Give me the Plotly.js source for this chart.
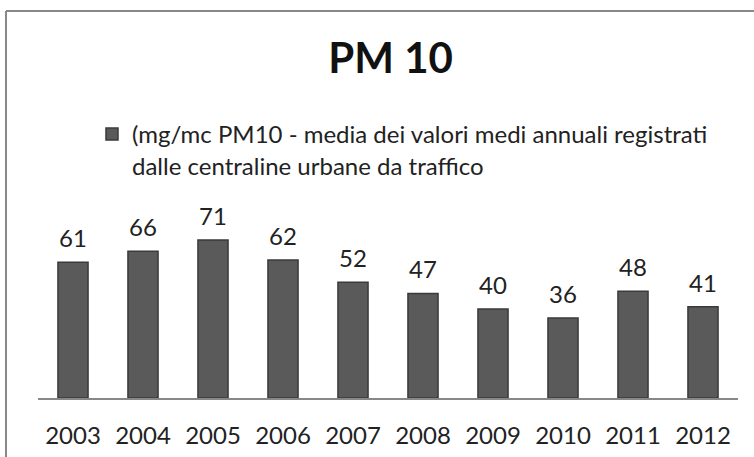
<!DOCTYPE html>
<html>
<head>
<meta charset="utf-8">
<script src="https://cdn.plot.ly/plotly-3.0.1.min.js"></script>
<style>
  html, body { margin: 0; padding: 0; background: #fff; }
  #chart { width: 754px; height: 457px; }
</style>
</head>
<body>
<div id="chart"></div>
<script>
// Years and PM10 annual averages
var years = ['2003', '2004', '2005', '2006', '2007', '2008', '2009', '2010', '2011', '2012']
var pm10 = [61, 66, 71, 62, 52, 47, 40, 36, 48, 41]
var seriesName = '(mg/mc PM10 - media dei valori medi annuali registrati<br>dalle centraline urbane da traffico'

var font = 'Lato, "Open Sans", sans-serif'

var trace = {
  x: years,
  y: pm10,
  type: 'bar',
  name: seriesName,
  marker: { color: '#5a5a5a', line: { color: '#3a3a3a', width: 1.5 } },
  showlegend: true
}

// value labels above bars, a bit higher than plotly's default
// (x given as category index, numeric-looking year strings confuse the axis)
var labels = pm10.map(function (v, i) {
  return {
    x: i, y: v, xref: 'x', yref: 'y',
    text: String(v),
    showarrow: false,
    yanchor: 'bottom',
    yshift: 8,
    font: { size: 24, color: '#222', family: font }
  }
})

// plot area: l=38, w=700, top=200, bottom=398
var layout = {
  width: 754,
  height: 457,
  margin: { l: 38, r: 16, t: 200, b: 59, autoexpand: false },
  paper_bgcolor: '#fff',
  plot_bgcolor: '#fff',
  font: { family: font, color: '#222', size: 24 },
  title: {
    text: '<b>PM 10</b>',
    font: { size: 42, color: '#111', family: font },
    x: 0.518, xanchor: 'center',
    y: 0.873, yanchor: 'middle'
  },
  bargap: 0.57,
  xaxis: {
    type: 'category',
    range: [-0.5, years.length - 0.5],
    showline: true,
    linecolor: '#888',
    linewidth: 1.5,
    ticks: '',
    tickangle: 0,
    ticklabelstandoff: 16,
    tickfont: { size: 24, color: '#222' },
    showgrid: false
  },
  yaxis: {
    range: [0, 89],
    visible: false,
    showgrid: false,
    zeroline: false
  },
  showlegend: true,
  legend: {
    xref: 'container', yref: 'container',
    x: 0.122, y: 0.755,
    xanchor: 'left', yanchor: 'top',
    valign: 'top',
    font: { size: 24, color: '#222' },
    itemwidth: 30,
    tracegroupgap: 0
  },
  annotations: labels,
  shapes: [
    { type: 'line', xref: 'paper', yref: 'paper', x0: -0.0457, x1: -0.0457, y0: -0.3, y1: 1.9545,
      line: { color: '#888', width: 2 } },
    { type: 'line', xref: 'paper', yref: 'paper', x0: -0.0457, x1: 1.03, y0: 1.9545, y1: 1.9545,
      line: { color: '#888', width: 2 } }
  ]
}

Plotly.newPlot('chart', [trace], layout, { displayModeBar: false, staticPlot: true })
</script>
</body>
</html>
